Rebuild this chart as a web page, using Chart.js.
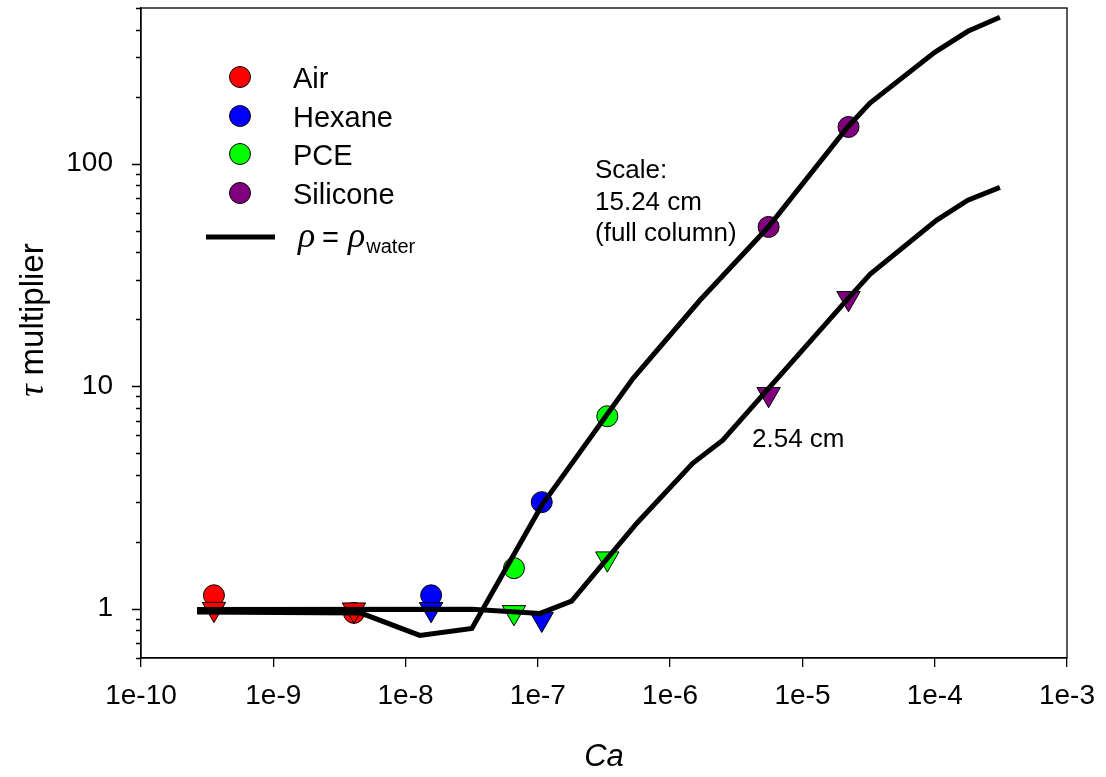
<!DOCTYPE html>
<html>
<head>
<meta charset="utf-8">
<script src="https://cdn.jsdelivr.net/npm/chart.js@4.4.1/dist/chart.umd.min.js"></script>
<style>
  body { margin: 0; background: #fff; }
  #wrap { width: 1106px; height: 777px; }
</style>
</head>
<body>
<div id="wrap"><canvas id="chart" width="1106" height="777"></canvas></div>
<script>
// measured points: Ca for each fluid, tau multiplier for full column (circles) and 2.54 cm (triangles)
const airCa = [3.56e-10, 4.07e-9];
const airFull = [1.148, 0.957];
const airShort = [0.995, 0.989];

const hexaneCa = [1.56e-8, 1.07e-7];
const hexaneFull = [1.148, 3.01];
const hexaneShort = [0.993, 0.898];

const pceCa = [6.6e-8, 3.35e-7];
const pceFull = [1.52, 7.32];
const pceShort = [0.962, 1.677];

const siliconeCa = [5.55e-6, 2.23e-5];
const siliconeFull = [51.9, 146];
const siliconeShort = [9.19, 24.8];

// model curves for rho = rho_water
const fullCa  = [2.65e-10, 4.6e-9, 1.28e-8, 3.17e-8, 1.07e-7, 5.23e-7, 1.68e-6, 5.5e-6, 2.2e-5, 3.24e-5, 1.0e-4, 1.78e-4, 3.11e-4];
const fullTau = [0.965, 0.955, 0.758, 0.815, 2.91, 10.8, 24.3, 51.7, 146, 187, 316, 393, 454];

const shortCa  = [2.65e-10, 3.17e-8, 1.04e-7, 1.8e-7, 5.6e-7, 1.48e-6, 2.5e-6, 2.22e-5, 3.24e-5, 1.03e-4, 1.78e-4, 3.11e-4];
const shortTau = [0.992, 0.993, 0.952, 1.08, 2.42, 4.5, 5.71, 24.8, 31.8, 55.6, 68.4, 78.2];

const xDecades = [-10, -9, -8, -7, -6, -5, -4, -3];
const yMajor = [1, 10, 100];
const yMinor = [0.6, 0.7, 0.8, 0.9, 2, 3, 4, 5, 6, 7, 8, 9, 20, 30, 40, 50, 60, 70, 80, 90, 200, 300, 400, 500];

const fluids = [
  { name: 'Air', color: '#ff0000', ca: airCa, full: airFull, short: airShort },
  { name: 'Hexane', color: '#0000ff', ca: hexaneCa, full: hexaneFull, short: hexaneShort },
  { name: 'PCE', color: '#00ff00', ca: pceCa, full: pceFull, short: pceShort },
  { name: 'Silicone', color: '#800080', ca: siliconeCa, full: siliconeFull, short: siliconeShort }
];

const FONT = '"Liberation Sans", Arial, sans-serif';
const GREEK = '"Liberation Serif", "Times New Roman", serif';

const pts = (xs, ys) => xs.map((x, i) => ({ x: x, y: ys[i] }));

const datasets = [
  {
    type: 'line', data: pts(fullCa, fullTau), borderColor: '#000', borderWidth: 5,
    pointRadius: 0, fill: false, tension: 0, order: 0
  },
  {
    type: 'line', data: pts(shortCa, shortTau), borderColor: '#000', borderWidth: 5,
    pointRadius: 0, fill: false, tension: 0, order: 0
  }
];
fluids.forEach(f => {
  datasets.push({
    type: 'scatter', data: pts(f.ca, f.short), pointStyle: 'triangle', rotation: 180,
    pointRadius: 13.5, backgroundColor: f.color, borderColor: '#000', borderWidth: 1, order: 1
  });
});
fluids.forEach(f => {
  datasets.push({
    type: 'scatter', data: pts(f.ca, f.full), pointStyle: 'circle',
    pointRadius: 10.5, backgroundColor: f.color, borderColor: '#000', borderWidth: 1, order: 2
  });
});

const extras = {
  id: 'extras',
  afterDraw(chart) {
    const ctx = chart.ctx;
    const a = chart.chartArea;
    const ys = chart.scales.y;
    ctx.save();

    // frame
    ctx.strokeStyle = '#000';
    ctx.lineWidth = 1.3;
    ctx.strokeRect(a.left, a.top, a.right - a.left, a.bottom - a.top);

    // y ticks, long for decades and short in between
    ctx.beginPath();
    yMajor.forEach(v => {
      const p = Math.round(ys.getPixelForValue(v)) + 0.5;
      ctx.moveTo(a.left - 9, p); ctx.lineTo(a.left, p);
    });
    yMinor.forEach(v => {
      const p = Math.round(ys.getPixelForValue(v)) + 0.5;
      ctx.moveTo(a.left - 5, p); ctx.lineTo(a.left, p);
    });
    ctx.stroke();

    // legend
    const lx = 240;
    const rows = [77, 116, 154, 193];
    ctx.font = '29px ' + FONT;
    ctx.textAlign = 'left';
    ctx.textBaseline = 'alphabetic';
    fluids.forEach((f, i) => {
      ctx.beginPath();
      ctx.arc(lx, rows[i], 10.5, 0, Math.PI * 2);
      ctx.fillStyle = f.color;
      ctx.fill();
      ctx.lineWidth = 1;
      ctx.strokeStyle = '#000';
      ctx.stroke();
      ctx.fillStyle = '#000';
      ctx.fillText(f.name, 293, rows[i] + 11);
    });
    ctx.beginPath();
    ctx.lineWidth = 5;
    ctx.moveTo(206, 237); ctx.lineTo(275, 237);
    ctx.stroke();
    ctx.fillStyle = '#000';
    ctx.font = 'italic 36px ' + GREEK;
    ctx.fillText('\u03C1', 298, 247);
    ctx.font = '29px ' + FONT;
    ctx.fillText('=', 322, 247);
    ctx.font = 'italic 36px ' + GREEK;
    ctx.fillText('\u03C1', 348, 247);
    const rhoW = ctx.measureText('\u03C1').width;
    ctx.font = '20px ' + FONT;
    ctx.fillText('water', 348 + rhoW + 1, 253);

    // scale notes
    ctx.font = '26px ' + FONT;
    ctx.fillText('Scale:', 595, 178);
    ctx.fillText('15.24 cm', 595, 210);
    ctx.fillText('(full column)', 595, 241);
    ctx.fillText('2.54 cm', 752, 447);

    // axis titles
    ctx.font = 'italic 31px ' + FONT;
    ctx.textAlign = 'center';
    ctx.fillText('Ca', (a.left + a.right) / 2, 766);

    ctx.translate(43, 320);
    ctx.rotate(-Math.PI / 2);
    ctx.textAlign = 'left';
    ctx.font = 'italic 35px ' + GREEK;
    const tauW = ctx.measureText('\u03C4 ').width;
    ctx.font = '33px ' + FONT;
    const restW = ctx.measureText('multiplier').width;
    const start = -(tauW + restW) / 2;
    ctx.font = 'italic 35px ' + GREEK;
    ctx.fillText('\u03C4', start, 0);
    ctx.font = '33px ' + FONT;
    ctx.fillText('multiplier', start + tauW, 0);

    ctx.restore();
  }
};

new Chart(document.getElementById('chart'), {
  data: { datasets: datasets },
  options: {
    responsive: false,
    animation: false,
    events: [],
    layout: { autoPadding: false, padding: { top: 8, right: 39, left: 0, bottom: 0 } },
    plugins: { legend: { display: false }, tooltip: { enabled: false } },
    scales: {
      x: {
        type: 'logarithmic', position: 'bottom', min: 1e-10, max: 1e-3,
        afterBuildTicks: s => { s.ticks = xDecades.map(e => ({ value: Math.pow(10, e) })); },
        afterFit: s => { s.height = 119; s.paddingLeft = 0; s.paddingRight = 0; },
        ticks: {
          color: '#000', font: { family: FONT, size: 28 }, padding: 12,
          maxRotation: 0, autoSkip: false,
          callback: v => '1e' + Math.round(Math.log10(v))
        },
        grid: { display: true, drawOnChartArea: false, drawTicks: true, tickLength: 9, color: '#000', lineWidth: 1.3 },
        border: { display: true, color: '#000', width: 1.3 }
      },
      y: {
        type: 'logarithmic', position: 'left', min: 0.6, max: 500,
        afterBuildTicks: s => { s.ticks = yMajor.map(v => ({ value: v })); },
        afterFit: s => { s.width = 141; s.paddingTop = 0; s.paddingBottom = 0; },
        ticks: {
          color: '#000', font: { family: FONT, size: 28 }, padding: 28,
          autoSkip: false, callback: v => String(v)
        },
        grid: { display: false, drawTicks: false },
        border: { display: true, color: '#000', width: 1.3 }
      }
    }
  },
  plugins: [extras]
});
</script>
</body>
</html>
